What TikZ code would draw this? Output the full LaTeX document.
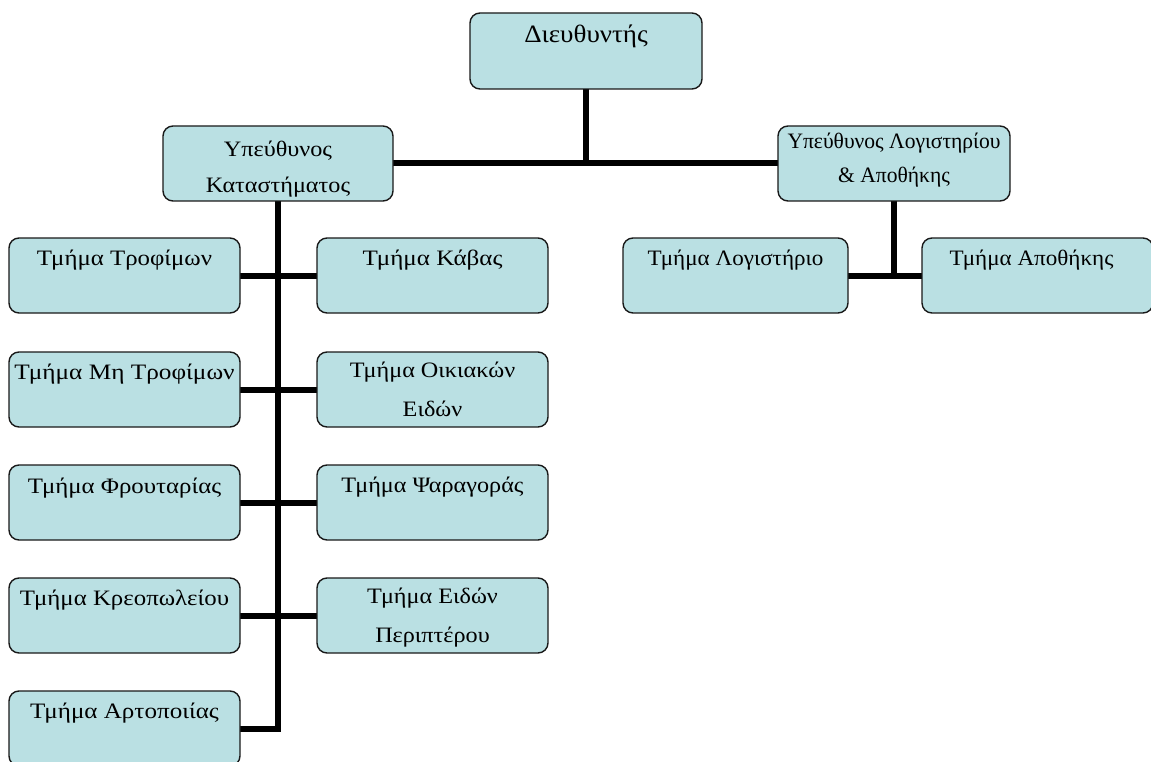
\documentclass[tikz,border=0pt]{standalone}
\usepackage{fontspec}
\setmainfont{Liberation Serif}
\usetikzlibrary{backgrounds}
\definecolor{boxfill}{RGB}{186,224,227}
\definecolor{boxline}{RGB}{25,25,25}
\newcommand{\hs}[2]{\scalebox{#1}[1]{#2}}
\begin{document}
\begin{tikzpicture}[x=1pt,y=-1pt,
  box/.style={draw=boxline, line width=1.4pt, fill=boxfill, rounded corners=10pt,
    anchor=north west, inner sep=0pt, outer sep=0pt, minimum width=231pt, minimum height=75pt},
  txt/.style={anchor=base, inner sep=0pt, font=\fontsize{22}{26}\selectfont},
  conn/.style={line width=6pt, draw=black}]
\useasboundingbox (0,0) rectangle (1151,762);

% top level
\node[box, minimum width=232pt, minimum height=76pt] (dir) at (470,13) {};
\node[txt, font=\fontsize{25}{30}\selectfont] (dirT) at ([yshift=-30pt]dir.north) {\hs{1.08}{Διευθυντής}};

\node[box, minimum width=230pt] (yk) at (163,126) {};
\node[txt] (ykA) at ([yshift=-31pt]yk.north) {\hs{1.1}{Υπεύθυνος}};
\node[txt] (ykB) at ([yshift=-67pt]yk.north) {\hs{1.1}{Καταστήματος}};

\node[box, minimum width=232pt] (yl) at (778,126) {};
\node[txt] (ylA) at ([yshift=-23pt]yl.north) {\hs{0.98}{Υπεύθυνος Λογιστηρίου}};
\node[txt] (ylB) at ([yshift=-57pt]yl.north) {\hs{0.98}{\& Αποθήκης}};

% left column
\node[box] (tr) at (9,238) {};
\node[txt] (trT) at ([yshift=-27pt]tr.north) {\hs{1.13}{Τμήμα Τροφίμων}};
\node[box] (mt) at (9,352) {};
\node[txt] (mtT) at ([yshift=-27pt]mt.north) {\hs{1.15}{Τμήμα Μη Τροφίμων}};
\node[box] (fr) at (9,465) {};
\node[txt] (frT) at ([yshift=-28pt]fr.north) {\hs{1.13}{Τμήμα Φρουταρίας}};
\node[box] (kr) at (9,578) {};
\node[txt] (krT) at ([yshift=-27pt]kr.north) {\hs{1.13}{Τμήμα Κρεοπωλείου}};
\node[box] (ar) at (9,691) {};
\node[txt] (arT) at ([yshift=-27pt]ar.north) {\hs{1.14}{Τμήμα Αρτοποιίας}};

% right column
\node[box] (kv) at (317,238) {};
\node[txt] (kvT) at ([yshift=-27pt]kv.north) {\hs{1.14}{Τμήμα Κάβας}};
\node[box] (oi) at (317,352) {};
\node[txt] (oiA) at ([yshift=-25pt]oi.north) {\hs{1.1}{Τμήμα Οικιακών}};
\node[txt] (oiB) at ([yshift=-64pt]oi.north) {\hs{1.1}{Ειδών}};
\node[box] (ps) at (317,465) {};
\node[txt] (psT) at ([yshift=-27pt]ps.north) {\hs{1.1}{Τμήμα Ψαραγοράς}};
\node[box] (pe) at (317,578) {};
\node[txt] (peA) at ([yshift=-25pt]pe.north) {\hs{1.1}{Τμήμα Ειδών}};
\node[txt] (peB) at ([yshift=-64pt]pe.north) {\hs{1.1}{Περιπτέρου}};

% accounting side
\node[box, minimum width=225pt] (lg) at (623,238) {};
\node[txt] (lgT) at ([yshift=-27pt]lg.north) {\hs{1.05}{Τμήμα Λογιστήριο}};
\node[box, minimum width=231pt] (ap) at (922,238) {};
\node[txt] (apT) at ([xshift=-6pt,yshift=-27pt]ap.north) {\hs{1.05}{Τμήμα Αποθήκης}};

\begin{scope}[on background layer]
  \draw[conn] (dir.south) -- (dir.south |- yk.east);
  \draw[conn] (yk.east) -- (yl.west);
  \draw[conn] (yk.south) |- (ar.east);
  \draw[conn] (tr.east) -- (tr.east -| yk.south);
  \draw[conn] (mt.east) -- (mt.east -| yk.south);
  \draw[conn] (fr.east) -- (fr.east -| yk.south);
  \draw[conn] (kr.east) -- (kr.east -| yk.south);
  \draw[conn] (kv.west) -- (kv.west -| yk.south);
  \draw[conn] (oi.west) -- (oi.west -| yk.south);
  \draw[conn] (ps.west) -- (ps.west -| yk.south);
  \draw[conn] (pe.west) -- (pe.west -| yk.south);
  \draw[conn] (yl.south) -- (yl.south |- lg.east);
  \draw[conn] (lg.east) -- (ap.west);
\end{scope}
\end{tikzpicture}
\end{document}
